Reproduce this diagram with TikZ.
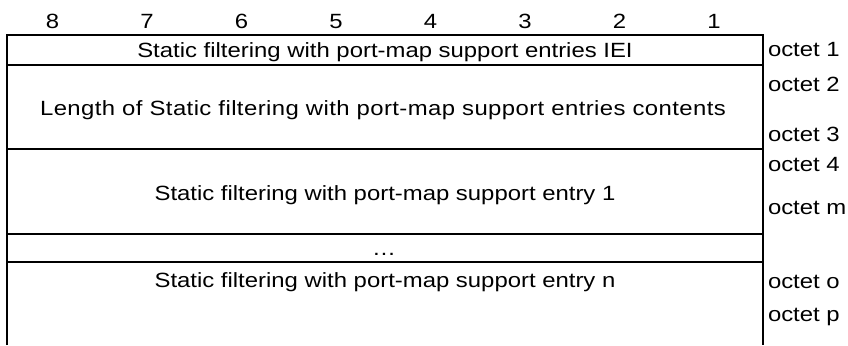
\documentclass[tikz,border=0pt]{standalone}
\usepackage{fontspec}
\setmainfont{Liberation Sans}[FakeStretch=1.16]

\begin{document}
\begin{tikzpicture}[x=0.5pt, y=-0.5pt, line width=1pt,
    every node/.style={inner sep=0pt, font=\fontsize{10.3}{12}\selectfont}]
  \useasboundingbox (0,0) rectangle (848,345);

  \coordinate (NW) at (7, 35);
  \coordinate (NE) at (763, 35);
  \coordinate (SW) at (7, 345);
  \coordinate (SE) at (763, 345);

  \draw (SW) -- (NW) -- (NE) -- (SE);
  \foreach \y in {64.5, 149, 234, 262}
    \draw (7, \y) -- (763, \y);

  % bit numbers
  \foreach \b in {1,...,8}
    \node[anchor=base] (bit\b) at ({761.25-94.5*(\b-0.5)}, 28.7) {\b};

  \node[anchor=base] (iei)    at (385, 57.3) {Static filtering with port-map support entries IEI};
  \node[anchor=base] (len)    at (383, 115)  {\addfontfeature{LetterSpace=2}Length of Static filtering with port-map support entries contents};
  \node[anchor=base] (entry1) at (385, 200)  {Static filtering with port-map support entry 1};
  \node[anchor=base] (dots)   at (384, 255)  {…};
  \node[anchor=base] (entryn) at (385, 287)  {Static filtering with port-map support entry n};

  \node[anchor=base west] (oct1) at (767, 56.5)  {octet 1};
  \node[anchor=base west] (oct2) at (767, 91.5)  {octet 2};
  \node[anchor=base west] (oct3) at (767, 141.7) {octet 3};
  \node[anchor=base west] (oct4) at (767, 171.7) {octet 4};
  \node[anchor=base west] (octm) at (767, 214)   {octet m};
  \node[anchor=base west] (octo) at (767, 288.3) {octet o};
  \node[anchor=base west] (octp) at (767, 321.7) {octet p};
\end{tikzpicture}
\end{document}
